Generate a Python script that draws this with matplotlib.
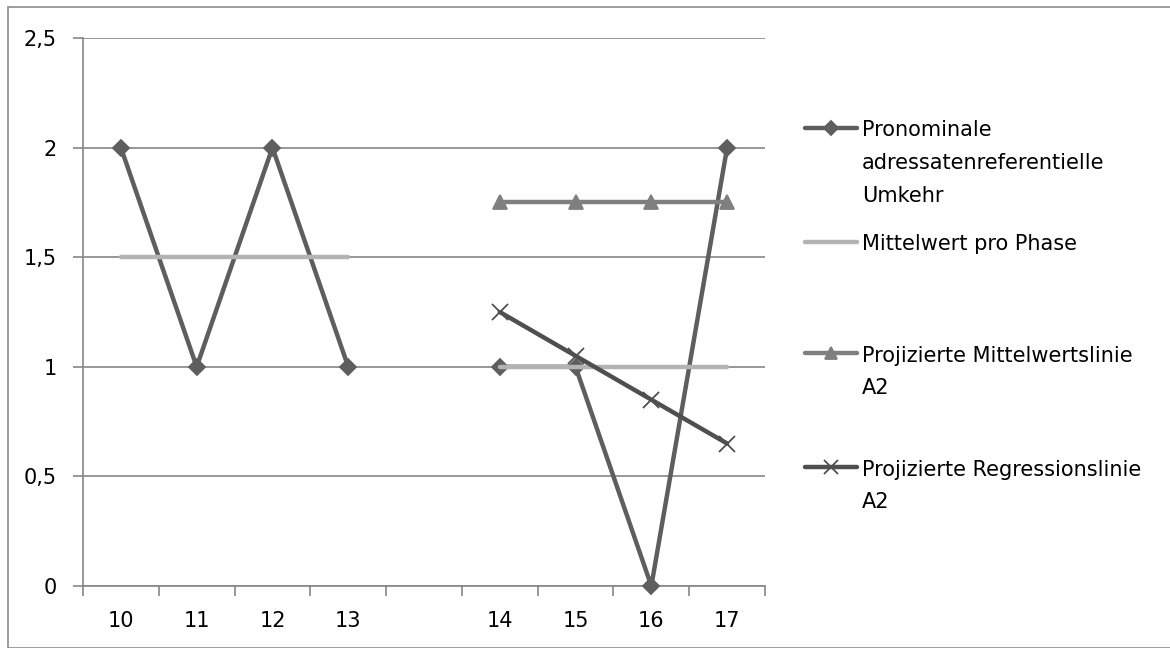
import numpy as np
import matplotlib.pyplot as plt
from matplotlib.lines import Line2D
from matplotlib.patches import Rectangle

plt.rcParams['font.family'] = ['DejaVu Sans']

# categories (empty slot separates phase A1 from A2)
categories = ['10', '11', '12', '13', '', '14', '15', '16', '17']
umkehr = [2, 1, 2, 1, None, 1, 1, 0, 2]
mittelwert = [1.5, 1.5, 1.5, 1.5, None, 1.0, 1.0, 1.0, 1.0]
proj_mittel = [None, None, None, None, None, 1.75, 1.75, 1.75, 1.75]
proj_regr = [None, None, None, None, None, 1.25, 1.05, 0.85, 0.65]
y_ticks = [0, 0.5, 1, 1.5, 2, 2.5]
y_labels = ['0', '0,5', '1', '1,5', '2', '2,5']

labels = ['Pronominale\nadressatenreferentielle\nUmkehr',
          'Mittelwert pro Phase',
          'Projizierte Mittelwertslinie\nA2',
          'Projizierte Regressionslinie\nA2']


def arr(v):
    return np.array([np.nan if x is None else x for x in v], dtype=float)


W, H = 1170, 648
FS = 15
fig = plt.figure(figsize=(W / 100, H / 100), dpi=100)
fig.patches.append(Rectangle((8 / W, 0), 1.2, 1 - 7 / H, transform=fig.transFigure,
                             fill=False, edgecolor='#8c8c8c', linewidth=1.2))

ax = fig.add_axes([83 / W, 1 - 586 / H, (765 - 83) / W, (586 - 38) / H])
x = np.arange(len(categories))

styles = [
    dict(color='#5e5e5e', lw=3.2, marker='D', ms=8),
    dict(color='#b3b3b3', lw=3.2, marker=None, ms=0),
    dict(color='#7f7f7f', lw=3.2, marker='^', ms=10),
    dict(color='#4f4f4f', lw=3.2, marker='x', ms=11),
]
series = [umkehr, mittelwert, proj_mittel, proj_regr]
for vals, st in zip(series, styles):
    ax.plot(x, arr(vals), color=st['color'], lw=st['lw'], marker=st['marker'],
            ms=st['ms'], mew=1.3, solid_capstyle='round', clip_on=False, zorder=3)

ax.set_xlim(-0.5, len(categories) - 0.5)
ax.set_ylim(0, 2.5)
ax.set_yticks(y_ticks)
ax.set_yticklabels(y_labels)
ax.set_xticks(x)
ax.set_xticklabels(categories)
ax.set_xticks(np.arange(-0.5, len(categories)), minor=True)
ax.tick_params(axis='x', which='major', length=0, pad=18, labelsize=FS)
ax.tick_params(axis='x', which='minor', length=7, color='#868686', width=1.2)
ax.tick_params(axis='y', length=7, color='#868686', width=1.2, pad=12, labelsize=FS)
ax.grid(axis='y', color='#868686', lw=1.2)
ax.set_axisbelow(True)
for s in ['top', 'right']:
    ax.spines[s].set_visible(False)
for s in ['left', 'bottom']:
    ax.spines[s].set_color('#868686')
    ax.spines[s].set_linewidth(1.2)

# legend: handle next to the first text line, wrapped lines below it
leg_y = [128, 242, 353, 467]
for lab, st, yy in zip(labels, styles, leg_y):
    fy = 1 - yy / H
    fig.add_artist(Line2D([805 / W, 857 / W], [fy, fy], color=st['color'], lw=st['lw'],
                          solid_capstyle='round', transform=fig.transFigure))
    if st['marker']:
        fig.add_artist(Line2D([831 / W], [fy], color=st['color'], marker=st['marker'],
                              ms=st['ms'] - 1, mew=1.3, transform=fig.transFigure))
    for i, line in enumerate(lab.split('\n')):
        base = yy + 8.5 + i * 32.5
        fig.text(862 / W, 1 - base / H, line, fontsize=FS, va='baseline', ha='left')

fig.savefig('out.png', dpi=100)
